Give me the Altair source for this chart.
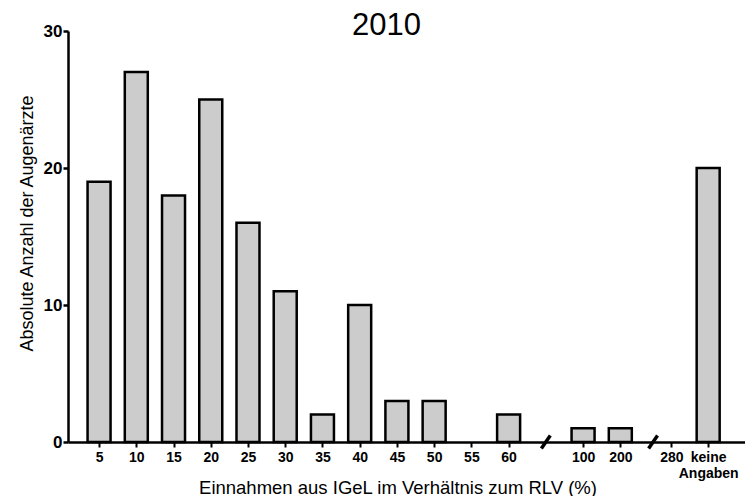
import altair as alt
import pandas as pd

labels = ["5", "10", "15", "20", "25", "30", "35", "40", "45", "50", "55", "60", "100", "200", "280", "keine Angaben"]
positions = [1, 2, 3, 4, 5, 6, 7, 8, 9, 10, 11, 12, 14, 15, 16.37, 17.36]
counts = [19, 27, 18, 25, 16, 11, 2, 10, 3, 3, 0, 2, 1, 1, 0, 20]
break_positions = [13.0, 15.88]

df = pd.DataFrame({"pos": positions, "label": labels, "count": counts})
brk = pd.DataFrame({"x": [b - 0.12 for b in break_positions],
                    "x2": [b + 0.12 for b in break_positions],
                    "y": [-0.47] * len(break_positions),
                    "y2": [0.47] * len(break_positions)})

# label expression built from the arrays
expr = "''"
for p, l in reversed(list(zip(positions, labels))):
    lab = "['keine','Angaben']" if l == "keine Angaben" else "'" + l + "'"
    expr = f"abs(datum.value - {p}) < 0.01 ? {lab} : ({expr})"

FONT = "Liberation Sans"
xscale = alt.Scale(domain=[0.30, 18.215], nice=False, zero=False)
yscale = alt.Scale(domain=[0, 30], nice=False)

bars = alt.Chart(df).transform_filter("datum.count > 0").mark_bar(
    size=23, fill="#cccccc", stroke="black", strokeWidth=2.5).encode(
    x=alt.X("pos:Q", scale=xscale,
            axis=alt.Axis(values=positions, labelExpr=expr, title="Einnahmen aus IGeL im Verhältnis zum RLV (%)",
                          grid=False, domainColor="black", domainWidth=2.5, tickColor="black",
                          tickWidth=2, tickSize=5, labelFont=FONT, labelFontSize=14,
                          labelFontWeight="bold", labelColor="black", labelPadding=3,
                          labelLineHeight=16, titleFont=FONT, titleFontSize=18.5,
                          titleFontWeight="normal", titleColor="black",
                          titleX=329.5, titleY=51, titleBaseline="alphabetic",
                          labelFlush=False, labelOverlap=False)),
    y=alt.Y("count:Q", scale=yscale,
            axis=alt.Axis(values=[0, 10, 20, 30], title="Absolute Anzahl der Augenärzte",
                          grid=False, domainColor="black", domainWidth=2.5, tickColor="black",
                          tickWidth=2.5, tickSize=5, labelFont=FONT, labelFontSize=17,
                          labelFontWeight="bold", labelColor="black", labelPadding=1,
                          titleFont=FONT, titleFontSize=18, titleFontWeight="normal",
                          titleColor="black", titleX=-36, titleY=192,
                          titleBaseline="alphabetic")),
)

breaks = alt.Chart(brk).mark_rule(color="black", strokeWidth=3.5).encode(
    x=alt.X("x:Q", scale=xscale), x2="x2:Q",
    y=alt.Y("y:Q", scale=yscale), y2="y2:Q",
)

chart = (bars + breaks).properties(
    width=677, height=411,
    title=alt.TitleParams("2010", font=FONT, fontSize=31, fontWeight="normal", color="black",
                          anchor="middle", dx=-20, offset=-20),
    autosize="none",
    padding={"left": 60, "top": 23, "right": 0, "bottom": 54},
).configure_view(stroke=None)

chart.save("out.html", embed_options={"renderer": "svg", "actions": False})
